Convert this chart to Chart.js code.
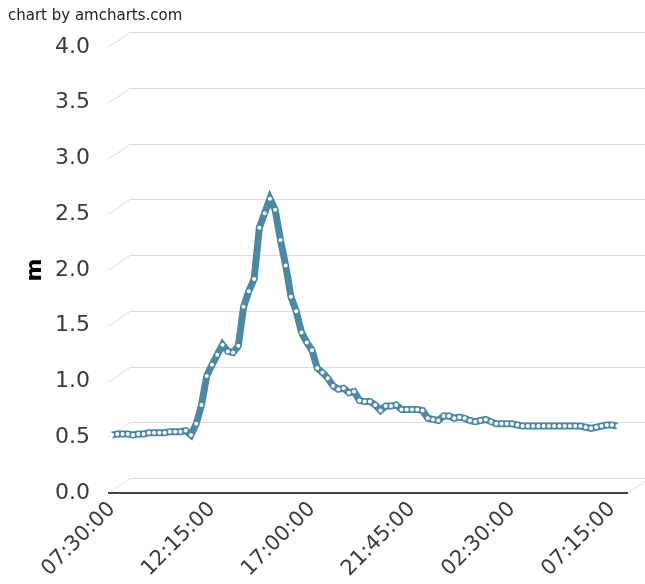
<!DOCTYPE html>
<html>
<head>
<meta charset="utf-8">
<script src="https://cdn.jsdelivr.net/npm/chart.js@4/dist/chart.umd.min.js"></script>
<style>
  html, body { margin: 0; padding: 0; background: #ffffff; }
  #c { display: block; }
</style>
</head>
<body>
<canvas id="c" width="645" height="584"></canvas>
<script>
// ---- data ----
const categories = [
  "07:30:00","07:45:00","08:00:00","08:15:00","08:30:00","08:45:00","09:00:00","09:15:00",
  "09:30:00","09:45:00","10:00:00","10:15:00","10:30:00","10:45:00","11:00:00","11:15:00",
  "11:30:00","11:45:00","12:00:00","12:15:00","12:30:00","12:45:00","13:00:00","13:15:00",
  "13:30:00","13:45:00","14:00:00","14:15:00","14:30:00","14:45:00","15:00:00","15:15:00",
  "15:30:00","15:45:00","16:00:00","16:15:00","16:30:00","16:45:00","17:00:00","17:15:00",
  "17:30:00","17:45:00","18:00:00","18:15:00","18:30:00","18:45:00","19:00:00","19:15:00",
  "19:30:00","19:45:00","20:00:00","20:15:00","20:30:00","20:45:00","21:00:00","21:15:00",
  "21:30:00","21:45:00","22:00:00","22:15:00","22:30:00","22:45:00","23:00:00","23:15:00",
  "23:30:00","23:45:00","00:00:00","00:15:00","00:30:00","00:45:00","01:00:00","01:15:00",
  "01:30:00","01:45:00","02:00:00","02:15:00","02:30:00","02:45:00","03:00:00","03:15:00",
  "03:30:00","03:45:00","04:00:00","04:15:00","04:30:00","04:45:00","05:00:00","05:15:00",
  "05:30:00","05:45:00","06:00:00","06:15:00","06:30:00","06:45:00","07:00:00","07:15:00",
  "07:30:00"
];
const levels = [
  0.52,0.53,0.53,0.53,0.52,0.53,0.53,0.54,0.54,0.54,0.54,0.55,0.55,0.55,0.56,0.52,
  0.62,0.79,1.05,1.15,1.24,1.33,1.27,1.26,1.32,1.67,1.81,1.92,2.38,2.51,2.64,2.54,
  2.27,2.04,1.76,1.63,1.44,1.35,1.28,1.12,1.08,1.03,0.96,0.93,0.94,0.90,0.91,0.83,
  0.82,0.82,0.79,0.74,0.78,0.78,0.79,0.75,0.75,0.75,0.75,0.74,0.67,0.66,0.65,0.69,
  0.69,0.67,0.68,0.67,0.65,0.64,0.65,0.66,0.64,0.62,0.62,0.62,0.62,0.61,0.60,0.60,
  0.60,0.60,0.60,0.60,0.60,0.60,0.60,0.60,0.60,0.60,0.59,0.58,0.59,0.60,0.61,0.61,
  0.60
];
const xTickLabels = ["07:30:00","12:15:00","17:00:00","21:45:00","02:30:00","07:15:00"];
const yTicks = [0, 0.5, 1, 1.5, 2, 2.5, 3, 3.5, 4];
const yTitle = "m";
const creditText = "chart by amcharts.com";

// ---- derived ----
const tickIdx = xTickLabels.map((l, k) => k === xTickLabels.length - 1 ? categories.lastIndexOf(l) : categories.indexOf(l));
const points = levels.map((v, i) => ({ x: i, y: v }));

const FONT = "'DejaVu Sans', Verdana, sans-serif";
const DX = 22, DY = -15;

const depthGrid = {
  id: 'depthGrid',
  beforeDatasetsDraw(chart) {
    const { ctx, chartArea: { left, right }, scales: { y } } = chart;
    ctx.save();
    ctx.strokeStyle = '#dcdcdc';
    ctx.lineWidth = 1;
    yTicks.forEach(v => {
      const py = Math.round(y.getPixelForValue(v)) + 0.5;
      ctx.beginPath();
      ctx.moveTo(left, py);
      ctx.lineTo(left + DX, py + DY);
      ctx.lineTo(chart.width + 20, py + DY);
      ctx.stroke();
    });
    const y0 = y.getPixelForValue(0);
    ctx.beginPath();
    ctx.moveTo(right, y0);
    ctx.lineTo(right + DX, y0 + DY);
    ctx.stroke();
    ctx.strokeStyle = '#444444';
    ctx.lineWidth = 2;
    ctx.beginPath();
    ctx.moveTo(left, y0);
    ctx.lineTo(right, y0);
    ctx.stroke();
    ctx.restore();
  },
  afterDraw(chart) {
    const ctx = chart.ctx;
    ctx.save();
    ctx.fillStyle = '#222222';
    ctx.font = "15px " + FONT;
    ctx.textBaseline = 'middle';
    ctx.textAlign = 'left';
    ctx.fillText(creditText, 8, 16);
    ctx.restore();
  }
};

new Chart(document.getElementById('c'), {
  type: 'line',
  data: {
    datasets: [{
      data: points,
      borderColor: '#4b88a4',
      borderWidth: 7,
      tension: 0,
      borderJoinStyle: 'miter',
      pointRadius: 2,
      pointBorderWidth: 0,
      pointBackgroundColor: '#ffffff',
      fill: false,
      clip: false
    }]
  },
  options: {
    responsive: false,
    animation: false,
    devicePixelRatio: 1,
    layout: { padding: { top: 47, right: 17, left: 0, bottom: 0 } },
    plugins: { legend: { display: false }, tooltip: { enabled: false } },
    scales: {
      x: {
        type: 'linear',
        min: -0.76,
        max: 98.03,
        grid: { display: false, drawTicks: false },
        border: { display: false },
        afterBuildTicks: s => { s.ticks = tickIdx.map(v => ({ value: v })); },
        afterFit: s => { s.height = 91; },
        ticks: {
          autoSkip: false,
          minRotation: 45,
          maxRotation: 45,
          padding: 4,
          color: '#3a3a3a',
          font: { family: FONT, size: 21 },
          callback: v => categories[v]
        }
      },
      y: {
        min: 0,
        max: 4,
        afterBuildTicks: s => { s.ticks = yTicks.map(v => ({ value: v })); },
        afterFit: s => { s.width = 108; },
        grid: { display: false, drawTicks: false },
        border: { display: false },
        ticks: {
          padding: 18,
          color: '#3a3a3a',
          font: { family: FONT, size: 22 },
          callback: v => Number(v).toFixed(1)
        },
        title: {
          display: true,
          text: yTitle,
          color: '#000000',
          font: { family: FONT, size: 22, weight: 'bold' },
          padding: { top: 22, bottom: 0 }
        }
      }
    }
  },
  plugins: [depthGrid]
});
</script>
</body>
</html>
